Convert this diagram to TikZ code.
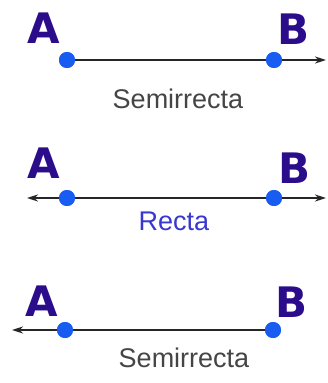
\documentclass[tikz,border=0pt]{standalone}
\usepackage{fontspec}
\setmainfont{Liberation Sans}
\newfontfamily\letterfont{DejaVu Sans}
\usepackage{tikz}
\usetikzlibrary{arrows.meta, positioning}
\definecolor{PointBlue}{rgb}{0.10, 0.36, 0.95}
\definecolor{LetterIndigo}{rgb}{0.17, 0.05, 0.55}
\definecolor{RectaBlue}{rgb}{0.22, 0.22, 0.82}
\definecolor{CaptionGray}{rgb}{0.27, 0.27, 0.27}
\tikzset{
	pointdot/.style={circle, fill=PointBlue, inner sep=0pt, minimum size=16pt},
	letter/.style={text=LetterIndigo, font=\letterfont\bfseries\fontsize{42}{42}\selectfont, inner sep=0pt},
	caption/.style={font=\fontsize{27}{27}\selectfont, inner sep=0pt},
	ray/.style={line width=2.2pt, draw=black!85, >={Stealth[length=11pt, width=7pt]}},
}
\begin{document}
\begin{tikzpicture}[x=1pt, y=-1pt]
	\useasboundingbox[fill=white] (0,0) rectangle (327,383);
	% semirrecta AB
	\node[letter] (a1) at (44,28) {A};
	\node[letter] (b1) at (294,29) {B};
	\node[pointdot] (p1a) at (67,60) {};
	\node[pointdot] (p1b) at (274,60) {};
	\coordinate (e1) at (326,60);
	\draw[ray, ->] (p1a.center) -- (e1);
	\node[pointdot] at (p1a) {};
	\node[pointdot] at (p1b) {};
	\node[caption, text=CaptionGray] (s1) at (178,99) {Semirrecta};
	% recta
	\node[letter] (a2) at (44,163) {A};
	\node[letter] (b2) at (295,168) {B};
	\node[pointdot] (p2a) at (67,198) {};
	\node[pointdot] (p2b) at (274,198) {};
	\coordinate (w2) at (27,198);
	\coordinate (e2) at (326,198);
	\draw[ray, <->] (w2) -- (e2);
	\node[pointdot] at (p2a) {};
	\node[pointdot] at (p2b) {};
	\node[caption, text=RectaBlue] (s2) at (174,221) {Recta};
	% semirrecta BA
	\node[letter] (a3) at (42,301) {A};
	\node[letter] (b3) at (292,302) {B};
	\node[pointdot] (p3a) at (65,330) {};
	\node[pointdot] (p3b) at (273,330) {};
	\coordinate (w3) at (12,330);
	\draw[ray, <-] (w3) -- (p3b.center);
	\node[pointdot] at (p3a) {};
	\node[pointdot] at (p3b) {};
	\node[caption, text=CaptionGray] (s3) at (184,358) {Semirrecta};
\end{tikzpicture}
\end{document}
